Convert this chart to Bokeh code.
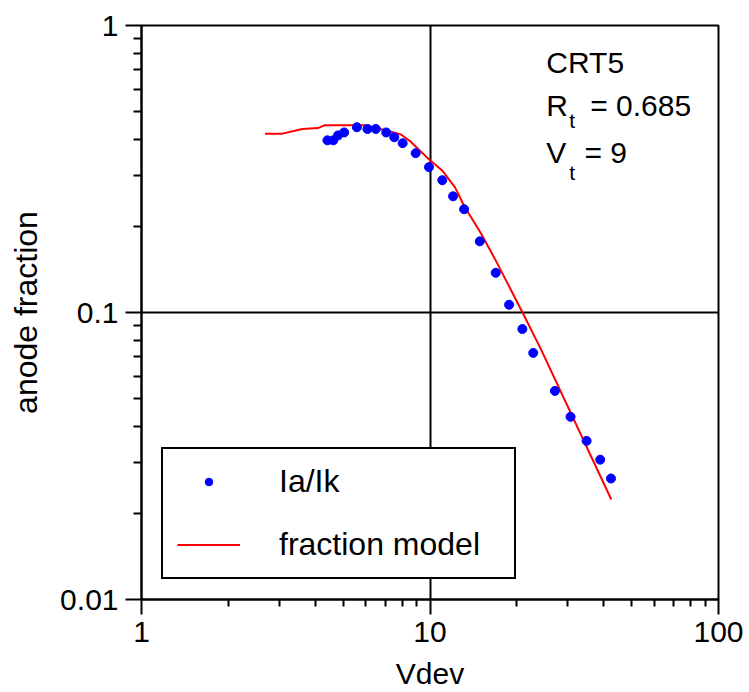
from bokeh.plotting import figure
from bokeh.models import (FixedTicker, CustomJSTickFormatter, Legend, LegendItem, Label)
from bokeh.embed import file_html
from bokeh.resources import INLINE

# ---- data ----
vdev_meas = [4.41, 4.62, 4.80, 5.04, 5.58, 6.07, 6.49, 7.05, 7.52, 8.04, 8.92, 9.92,
             11.03, 12.02, 13.13, 14.88, 16.9, 18.8, 20.9, 22.8, 27.1, 30.7, 34.9, 38.9, 42.4]
ia_ik = [0.398, 0.398, 0.414, 0.424, 0.442, 0.436, 0.436, 0.424, 0.408, 0.389, 0.359, 0.321,
         0.289, 0.254, 0.229, 0.177, 0.1375, 0.1064, 0.0876, 0.0723, 0.0533, 0.0433, 0.0357, 0.0307, 0.0264]

vdev_model = [2.68, 3.08, 3.34, 3.61, 4.09, 4.30, 5.99, 6.58, 7.93, 8.59, 9.94, 11.07,
              12.21, 13.15, 15.03, 16.95, 20.99, 24.3, 42.5]
frac_model = [0.420, 0.420, 0.428, 0.436, 0.439, 0.449, 0.449, 0.439, 0.417, 0.393, 0.341, 0.311,
              0.273, 0.2346, 0.1886, 0.151, 0.0994, 0.0741, 0.0223]

x_ticks = [1, 10, 100]
x_tick_labels = ["1", "10", "100"]
y_ticks = [0.01, 0.1, 1]
y_tick_labels = ["0.01", "0.1", "1"]
x_minor = [2, 3, 4, 5, 6, 7, 8, 9, 20, 30, 40, 50, 60, 70, 80, 90]
y_minor = [0.02, 0.03, 0.04, 0.05, 0.06, 0.07, 0.08, 0.09, 0.2, 0.3, 0.4, 0.5, 0.6, 0.7, 0.8, 0.9]

FONT = "Liberation Sans"

p = figure(width=749, height=692, x_axis_type="log", y_axis_type="log",
           x_range=(1, 100), y_range=(0.01, 1),
           output_backend="svg", toolbar_location=None,
           min_border_left=141, min_border_right=31, min_border_top=25, min_border_bottom=92,
           x_axis_label="Vdev", y_axis_label="anode fraction")

p.background_fill_color = "white"
p.border_fill_color = "white"
p.outline_line_color = "black"
p.outline_line_width = 2
p.outline_line_alpha = 1.0

fmt_code = "return tick.toString();"
for ax, ticks, labels, minor in ((p.xaxis[0], x_ticks, x_tick_labels, x_minor),
                                 (p.yaxis[0], y_ticks, y_tick_labels, y_minor)):
    ax.ticker = FixedTicker(ticks=ticks, minor_ticks=minor)
    ax.formatter = CustomJSTickFormatter(code=fmt_code)
    ax.major_label_overrides = dict(zip(ticks, labels))
    ax.axis_line_color = "black"
    ax.axis_line_width = 2
    ax.major_tick_line_color = "black"
    ax.major_tick_line_width = 2
    ax.minor_tick_line_color = "black"
    ax.minor_tick_line_width = 2
    ax.major_tick_in = 0
    ax.minor_tick_in = 0
    ax.major_label_text_font = FONT
    ax.major_label_text_font_size = "30px"
    ax.major_label_text_color = "black"
    ax.axis_label_text_font = FONT
    ax.axis_label_text_font_style = "normal"
    ax.axis_label_text_color = "black"

p.xaxis.major_tick_out = 15
p.xaxis.minor_tick_out = 7
p.xaxis.major_label_standoff = 7
p.xaxis.axis_label_standoff = 12
p.xaxis.axis_label_text_font_size = "30px"

p.yaxis.major_tick_out = 16
p.yaxis.minor_tick_out = 8
p.yaxis.major_label_standoff = 7
p.yaxis.axis_label_standoff = 13
p.yaxis.axis_label_text_font_size = "32px"

p.xgrid.ticker = FixedTicker(ticks=[10])
p.ygrid.ticker = FixedTicker(ticks=[0.1])
for g in (p.xgrid[0], p.ygrid[0]):
    g.grid_line_color = "black"
    g.grid_line_width = 2
    g.grid_line_alpha = 1.0

ln = p.line(vdev_model, frac_model, line_color="#ff0000", line_width=2)
sc = p.scatter(vdev_meas, ia_ik, size=9, fill_color="#0000ff", line_color="#0000ff")

legend = Legend(items=[LegendItem(label="Ia/Ik", renderers=[sc]),
                       LegendItem(label="fraction model", renderers=[ln])],
                location=(20, 20), orientation="vertical",
                border_line_color="black", border_line_width=2, border_line_alpha=1.0,
                background_fill_color="white", background_fill_alpha=1.0,
                padding=14, spacing=26, margin=0,
                glyph_width=63, glyph_height=19, label_height=36, label_width=221,
                label_standoff=39, label_text_font=FONT, label_text_font_size="32px",
                label_text_color="black")
p.add_layout(legend)

annots = [
    ("CRT5", 25.3, 0.743, "30px"),
    ("R", 25.3, 0.527, "30px"),
    ("t", 30.4, 0.467, "21px"),
    ("= 0.685", 35.9, 0.527, "30px"),
    ("V", 25.3, 0.362, "30px"),
    ("t", 30.4, 0.308, "21px"),
    ("= 9", 34.3, 0.362, "30px"),
]
for txt, x, y, fs in annots:
    p.add_layout(Label(x=x, y=y, text=txt, text_font=FONT, text_font_size=fs,
                       text_baseline="middle", text_align="left", text_color="black"))

open("out.html", "w").write(file_html(p, INLINE))
